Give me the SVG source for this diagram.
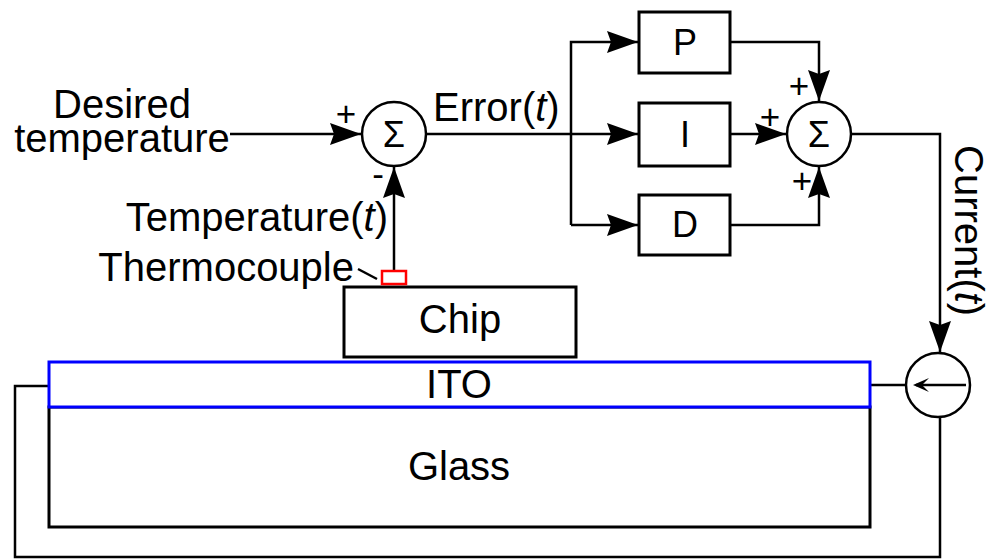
<svg xmlns="http://www.w3.org/2000/svg" width="990" height="559" viewBox="0 0 990 559">
<defs>
<style>
text{font-family:"Liberation Sans",Arial,sans-serif;fill:#000}
.t40{font-size:40px}
.t36{font-size:36px}
.sign{font-size:35px}
.ln{fill:none;stroke:#000;stroke-width:2.5}
.box{fill:#fff;stroke:#000;stroke-width:3}
.circ{fill:#fff;stroke:#000;stroke-width:2.5}
</style>
<marker id="ah" markerUnits="userSpaceOnUse" markerWidth="34" markerHeight="26" viewBox="-32 -13 34 26" refX="0" refY="0" orient="auto">
<path d="M0,0 L-31,-11 L-27,0 L-31,11 Z" fill="#000"/>
</marker>
</defs>
<rect width="990" height="559" fill="#fff"/>

<g id="connectors">
<path class="ln" d="M230,134 H361" marker-end="url(#ah)"/>
<path class="ln" d="M394,271 V167" marker-end="url(#ah)"/>
<path class="ln" d="M426,134 H638" marker-end="url(#ah)"/>
<path class="ln" d="M571,225 V42 H638" marker-end="url(#ah)"/>
<path class="ln" d="M571,225 H638" marker-end="url(#ah)"/>
<path class="ln" d="M730,42 H819 V101" marker-end="url(#ah)"/>
<path class="ln" d="M730,134 H786" marker-end="url(#ah)"/>
<path class="ln" d="M730,225 H819 V167" marker-end="url(#ah)"/>
<path class="ln" d="M851,134 H940 V352" marker-end="url(#ah)"/>
<path class="ln" d="M870,385 H906"/>
<path class="ln" d="M49,386 H15 V557 H940 V417"/>
<path class="ln" d="M358,269 L377,279" stroke-width="2"/>
</g>

<g id="glass">
<rect class="box" x="49" y="407" width="821" height="120"/>
<text class="t40" x="459" y="480" text-anchor="middle">Glass</text>
</g>
<g id="ito">
<rect x="49" y="362" width="821" height="45" fill="#fff" stroke="#0000ff" stroke-width="3"/>
<text class="t40" x="459" y="398" text-anchor="middle">ITO</text>
</g>
<g id="chip">
<rect class="box" x="344" y="287" width="232" height="70"/>
<text class="t40" x="460" y="333" text-anchor="middle">Chip</text>
</g>
<g id="thermocouple">
<rect x="382" y="271" width="24" height="13" fill="#fff" stroke="#ff0000" stroke-width="2.5"/>
<text class="t40" x="354" y="281" text-anchor="end">Thermocouple</text>
</g>
<g id="desired">
<text class="t40" x="122" y="118" text-anchor="middle">Desired</text>
<text class="t40" x="122" y="152" text-anchor="middle">temperature</text>
</g>
<g id="temperature-label">
<text class="t40" x="388" y="231" text-anchor="end">Temperature(<tspan font-style="italic">t</tspan>)</text>
</g>
<g id="sum1">
<circle class="circ" cx="394" cy="134" r="32"/>
<text class="t36" x="394" y="147" text-anchor="middle">Σ</text>
<text class="sign" x="346" y="126" text-anchor="middle">+</text>
<text class="sign" x="378" y="186" text-anchor="middle">-</text>
</g>
<g id="error-label">
<text class="t40" x="433" y="121">Error(<tspan font-style="italic">t</tspan>)</text>
</g>
<g id="P">
<rect class="box" x="639" y="12" width="91" height="61"/>
<text class="t36" x="685" y="55" text-anchor="middle">P</text>
</g>
<g id="I">
<rect class="box" x="639" y="103" width="91" height="63"/>
<text class="t36" x="685" y="147" text-anchor="middle">I</text>
</g>
<g id="D">
<rect class="box" x="639" y="195" width="91" height="60"/>
<text class="t36" x="685" y="237" text-anchor="middle">D</text>
</g>
<g id="sum2">
<circle class="circ" cx="819" cy="134" r="32"/>
<text class="t36" x="819" y="147" text-anchor="middle">Σ</text>
<text class="sign" x="799" y="98" text-anchor="middle">+</text>
<text class="sign" x="770" y="129" text-anchor="middle">+</text>
<text class="sign" x="802" y="193" text-anchor="middle">+</text>
</g>
<g id="current-label">
<text class="t40" transform="translate(955,145) rotate(90)">Current(<tspan font-style="italic">t</tspan>)</text>
</g>
<g id="current-source">
<circle class="circ" cx="938" cy="385" r="32"/>
<path d="M966,385 H916" fill="none" stroke="#000" stroke-width="2.5"/>
<path d="M913,385 L929,378 L922,385 L929,392 Z" fill="#000"/>
</g>
</svg>
